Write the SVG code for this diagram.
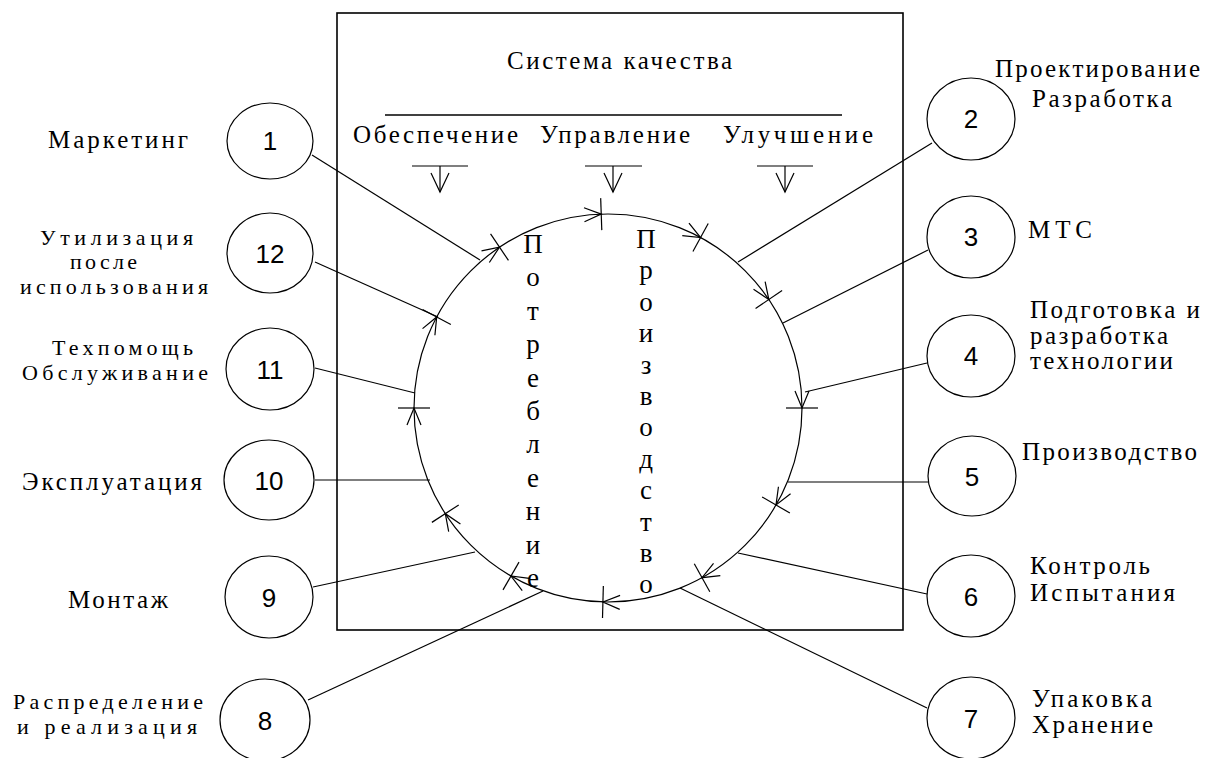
<svg xmlns="http://www.w3.org/2000/svg" xmlns:xlink="http://www.w3.org/1999/xlink" width="1211" height="758" viewBox="0 0 1211 758">
<style>
.bg{fill:#fff}
.ln{stroke:#000;stroke-width:1.2;fill:none}
.bx{stroke:#000;stroke-width:1.6;fill:none}
.nd{stroke:#000;stroke-width:1.2;fill:#fff}
.lb{font-family:"Liberation Serif","Times New Roman",serif;font-size:25px;fill:#000}
.sm{font-size:22px}
.num{font-family:"Liberation Sans",Arial,sans-serif;font-size:26px;fill:#000;text-anchor:middle}
.vt{font-family:"Liberation Serif","Times New Roman",serif;font-size:27px;fill:#000;text-anchor:middle}
</style>
<defs>
<g id="mk" class="ln">
<line x1="786" y1="408" x2="818" y2="408"/>
<path d="M795,391 L802,408 L809,391"/>
</g>
</defs>
<rect class="bg" x="0" y="0" width="1211" height="758"/>

<g id="quality-box">
<rect class="bx" x="337" y="13" width="566" height="617"/>
<text class="lb" x="507" y="69" textLength="225" font-size="27">Система качества</text>
<line class="bx" x1="385" y1="115" x2="842" y2="115" stroke-width="2"/>
<text class="lb" x="353" y="143" textLength="165" font-size="26">Обеспечение</text>
<text class="lb" x="540" y="143" textLength="150" font-size="26">Управление</text>
<text class="lb" x="723" y="143" textLength="150" font-size="26">Улучшение</text>
<g class="ln" stroke-width="1.5">
<line x1="412" y1="166" x2="468" y2="166"/><line x1="440" y1="166" x2="440" y2="192"/><path d="M431,173 L440,192 L449,173"/>
<line x1="585" y1="166" x2="642" y2="166"/><line x1="613" y1="166" x2="613" y2="192"/><path d="M604,173 L613,192 L622,173"/>
<line x1="757" y1="166" x2="813" y2="166"/><line x1="785" y1="166" x2="785" y2="192"/><path d="M776,173 L785,192 L794,173"/>
</g>
</g>

<g id="cycle">
<circle class="ln" cx="608" cy="408" r="194"/>
<use xlink:href="#mk" href="#mk" transform="rotate(-124 608 408)"/>
<use xlink:href="#mk" href="#mk" transform="rotate(-152 608 408)"/>
<use xlink:href="#mk" href="#mk" transform="rotate(-92 608 408)"/>
<use xlink:href="#mk" href="#mk" transform="rotate(-61.5 608 408)"/>
<use xlink:href="#mk" href="#mk" transform="rotate(-34 608 408)"/>
<use xlink:href="#mk" href="#mk" transform="rotate(0 608 408)"/>
<use xlink:href="#mk" href="#mk" transform="rotate(30 608 408)"/>
<use xlink:href="#mk" href="#mk" transform="rotate(61 608 408)"/>
<use xlink:href="#mk" href="#mk" transform="rotate(91.5 608 408)"/>
<use xlink:href="#mk" href="#mk" transform="rotate(120 608 408)"/>
<use xlink:href="#mk" href="#mk" transform="rotate(147 608 408)"/>
<use xlink:href="#mk" href="#mk" transform="rotate(180 608 408)"/>
<text class="vt" x="533"><tspan x="533" y="253">П</tspan><tspan x="533" y="286">о</tspan><tspan x="533" y="320">т</tspan><tspan x="533" y="353">р</tspan><tspan x="533" y="387">е</tspan><tspan x="533" y="420">б</tspan><tspan x="533" y="453">л</tspan><tspan x="533" y="487">е</tspan><tspan x="533" y="520">н</tspan><tspan x="533" y="554">и</tspan><tspan x="533" y="587">е</tspan></text>
<text class="vt" x="646"><tspan x="646" y="248">П</tspan><tspan x="646" y="279">р</tspan><tspan x="646" y="311">о</tspan><tspan x="646" y="342">и</tspan><tspan x="646" y="374">з</tspan><tspan x="646" y="405">в</tspan><tspan x="646" y="436">о</tspan><tspan x="646" y="468">д</tspan><tspan x="646" y="499">с</tspan><tspan x="646" y="531">т</tspan><tspan x="646" y="562">в</tspan><tspan x="646" y="593">о</tspan></text>
</g>

<g id="connectors" class="ln">
<line x1="312" y1="155" x2="480" y2="260"/>
<line x1="932" y1="143" x2="738" y2="262"/>
<line x1="928" y1="250" x2="783" y2="323"/>
<line x1="927" y1="363" x2="805" y2="392"/>
<line x1="928" y1="482" x2="788" y2="482"/>
<line x1="927" y1="594" x2="738" y2="553"/>
<line x1="927" y1="708" x2="680" y2="588"/>
<line x1="308" y1="700" x2="543" y2="591"/>
<line x1="313" y1="587" x2="475" y2="552"/>
<line x1="315" y1="480" x2="430" y2="480"/>
<line x1="315" y1="368" x2="415" y2="393"/>
<line x1="315" y1="262" x2="438" y2="317"/>
</g>

<g id="node-1"><ellipse class="nd" cx="270" cy="141" rx="43" ry="38"/><text class="num" x="270" y="150">1</text><text class="lb" x="48" y="148" textLength="140">Маркетинг</text></g>
<g id="node-2"><ellipse class="nd" cx="971" cy="119" rx="44" ry="41"/><text class="num" x="971" y="128">2</text><text class="lb" x="995" y="77" textLength="205">Проектирование</text><text class="lb" x="1032" y="107" textLength="140">Разработка</text></g>
<g id="node-3"><ellipse class="nd" cx="971" cy="237" rx="44" ry="41"/><text class="num" x="971" y="246">3</text><text class="lb" x="1028" y="238" textLength="64">МТС</text></g>
<g id="node-4"><ellipse class="nd" cx="971" cy="356" rx="44" ry="41"/><text class="num" x="971" y="365">4</text><text class="lb" x="1030" y="318" textLength="170">Подготовка и</text><text class="lb" x="1030" y="344" textLength="138">разработка</text><text class="lb" x="1030" y="369" textLength="143">технологии</text></g>
<g id="node-5"><ellipse class="nd" cx="972" cy="476" rx="44" ry="40"/><text class="num" x="972" y="486">5</text><text class="lb" x="1022" y="460" textLength="175">Производство</text></g>
<g id="node-6"><ellipse class="nd" cx="971" cy="596" rx="44" ry="41"/><text class="num" x="971" y="606">6</text><text class="lb" x="1030" y="574" textLength="120">Контроль</text><text class="lb" x="1030" y="601" textLength="145">Испытания</text></g>
<g id="node-7"><ellipse class="nd" cx="971" cy="718" rx="44" ry="41"/><text class="num" x="971" y="728">7</text><text class="lb" x="1032" y="707" textLength="120">Упаковка</text><text class="lb" x="1032" y="733" textLength="121">Хранение</text></g>
<g id="node-8"><ellipse class="nd" cx="265" cy="720" rx="45" ry="41"/><text class="num" x="265" y="730">8</text><text class="lb sm" x="13" y="709" textLength="190">Распределение</text><text class="lb sm" x="17" y="734" textLength="180">и реализация</text></g>
<g id="node-9"><ellipse class="nd" cx="269" cy="597" rx="44" ry="41"/><text class="num" x="269" y="607">9</text><text class="lb" x="68" y="608" textLength="100">Монтаж</text></g>
<g id="node-10"><ellipse class="nd" cx="269" cy="480" rx="45" ry="40"/><text class="num" x="269" y="490">10</text><text class="lb" x="22" y="490" textLength="180">Эксплуатация</text></g>
<g id="node-11"><ellipse class="nd" cx="270" cy="369" rx="44" ry="41"/><text class="num" x="270" y="379">11</text><text class="lb sm" x="52" y="355" textLength="141">Техпомощь</text><text class="lb sm" x="22" y="380" textLength="186">Обслуживание</text></g>
<g id="node-12"><ellipse class="nd" cx="270" cy="253" rx="43" ry="40"/><text class="num" x="270" y="263">12</text><text class="lb sm" x="40" y="245" textLength="153">Утилизация</text><text class="lb sm" x="70" y="269" textLength="67">после</text><text class="lb sm" x="20" y="294" textLength="188">использования</text></g>
</svg>
